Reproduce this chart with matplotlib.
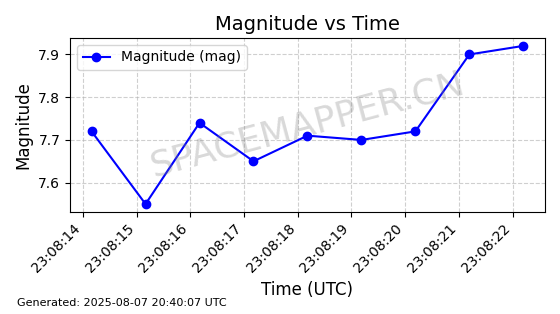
import matplotlib
matplotlib.use('Agg')
import matplotlib.pyplot as plt
import matplotlib.dates as mdates
from datetime import datetime

# observation times (UTC) and magnitudes
times = ['2025-08-07 23:08:14.160', '2025-08-07 23:08:15.165', '2025-08-07 23:08:16.170',
         '2025-08-07 23:08:17.175', '2025-08-07 23:08:18.180', '2025-08-07 23:08:19.185',
         '2025-08-07 23:08:20.190', '2025-08-07 23:08:21.195', '2025-08-07 23:08:22.200']
magnitudes = [7.72, 7.55, 7.74, 7.65, 7.71, 7.70, 7.72, 7.90, 7.92]
generated = 'Generated: 2025-08-07 20:40:07 UTC'

t = [datetime.strptime(s, '%Y-%m-%d %H:%M:%S.%f') for s in times]

fig, ax = plt.subplots(figsize=(5.6, 3.14), dpi=100)
fig.subplots_adjust(left=0.125, right=0.973, top=0.879, bottom=0.325)

ax.plot(t, magnitudes, marker='o', color='blue', linestyle='-', label='Magnitude (mag)')
ax.set_title('Magnitude vs Time', fontsize=14)
ax.set_xlabel('Time (UTC)', fontsize=12)
ax.set_ylabel('Magnitude', fontsize=12)
ax.grid(True, linestyle='--', alpha=0.6)
ax.legend(loc='upper left')

ax.xaxis.set_major_locator(mdates.SecondLocator())
ax.xaxis.set_major_formatter(mdates.DateFormatter('%H:%M:%S'))
plt.setp(ax.get_xticklabels(), rotation=45, ha='right')

# watermark
ax.text(0.5, 0.5, 'SPACEMAPPER.CN', transform=ax.transAxes, fontsize=26,
        color='gray', alpha=0.3, ha='center', va='center', rotation=15)

fig.text(0.03, 0.025, generated, fontsize=8)

fig.savefig('out.png', dpi=100)
plt.close(fig)
